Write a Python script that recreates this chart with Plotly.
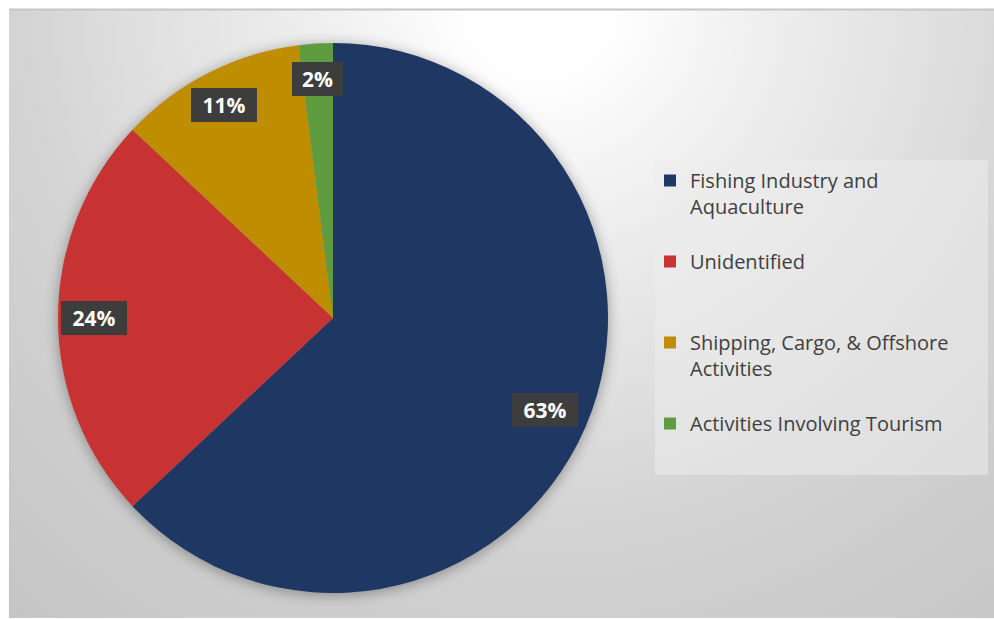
import base64
import math

import plotly.graph_objects as go

# Sources of marine debris, share of items by origin
categories = [
    "Fishing Industry and<br>Aquaculture",
    "Unidentified",
    "Shipping, Cargo, & Offshore<br>Activities",
    "Activities Involving Tourism",
]
values = [63, 24, 11, 2]
colors = ["#1f3763", "#c73333", "#bf8e00", "#5f9b3f"]

W, H = 994, 619
CX, CY, R = 333, 318, 275  # pie centre and radius in px

# Pad every legend entry to three lines so the entries are evenly spaced
legend_labels = []
for c in categories:
    n = c.count("<br>") + 1
    legend_labels.append(c + "<br>\u00a0" * (3 - n))

# Background: framed panel with a soft radial gradient and a shadow under the pie
svg = f"""<svg xmlns="http://www.w3.org/2000/svg" width="{W}" height="{H}" viewBox="0 0 {W} {H}">
<defs>
<radialGradient id="g" gradientUnits="userSpaceOnUse" cx="540" cy="0" r="850">
<stop offset="0" stop-color="#ffffff"/>
<stop offset="0.08" stop-color="#ffffff"/>
<stop offset="0.27" stop-color="#eeeeee"/>
<stop offset="0.45" stop-color="#e1e1e1"/>
<stop offset="0.61" stop-color="#d4d4d4"/>
<stop offset="0.8" stop-color="#cbcbcb"/>
<stop offset="1" stop-color="#c3c3c3"/>
</radialGradient>
<filter id="s" x="-20%" y="-20%" width="140%" height="140%"><feGaussianBlur stdDeviation="7"/></filter>
</defs>
<rect width="{W}" height="{H}" fill="#ffffff"/>
<rect x="9" y="9" width="{W - 9}" height="{H - 10}" fill="url(#g)"/>
<line x1="9" y1="9.5" x2="{W}" y2="9.5" stroke="#c6c6c6" stroke-width="2"/>
<circle cx="{CX}" cy="{CY + 2}" r="{R}" fill="#000000" fill-opacity="0.35" filter="url(#s)"/>
</svg>"""
bg_uri = "data:image/svg+xml;base64," + base64.b64encode(svg.encode()).decode()

fig = go.Figure(
    go.Pie(
        labels=legend_labels,
        values=values,
        sort=False,
        direction="clockwise",
        rotation=0,
        marker=dict(colors=colors, line=dict(width=0)),
        textinfo="none",
        hoverinfo="label+percent",
        domain=dict(x=[(CX - R) / W, (CX + R) / W], y=[1 - (CY + R) / H, 1 - (CY - R) / H]),
    )
)

# Percentage labels in dark boxes, placed along each slice's mid angle
total = sum(values)
cum = 0.0
for v in values:
    mid = (cum + v / 2) / total * 2 * math.pi
    cum += v
    rr = (0.84 if v > 50 else 0.87) * R
    px = CX + rr * math.sin(mid)
    py = CY - rr * math.cos(mid)
    fig.add_annotation(
        x=px / W,
        y=1 - py / H,
        xref="paper",
        yref="paper",
        xanchor="center",
        yanchor="middle",
        text=f"{v / total * 100:.0f}%",
        showarrow=False,
        font=dict(family="Open Sans", size=21, color="#ffffff", weight="bold"),
        bgcolor="#3d3d3d",
        bordercolor="#3d3d3d",
        borderwidth=1,
        borderpad=2,
        width=60 if v >= 10 else 45,
        height=28,
    )

fig.add_shape(
    type="rect",
    xref="paper",
    yref="paper",
    x0=655 / W,
    x1=988 / W,
    y0=1 - 475 / H,
    y1=1 - 160 / H,
    fillcolor="rgba(236,236,236,0.55)",
    line=dict(width=0),
    layer="below",
)

fig.update_layout(
    width=W,
    height=H,
    margin=dict(l=0, r=0, t=0, b=0),
    paper_bgcolor="#ffffff",
    images=[
        dict(
            source=bg_uri,
            xref="paper",
            yref="paper",
            x=0,
            y=1,
            sizex=1,
            sizey=1,
            xanchor="left",
            yanchor="top",
            sizing="stretch",
            layer="below",
        )
    ],
    showlegend=True,
    legend=dict(
        x=650 / W,
        y=1 - 161 / H,
        xanchor="left",
        yanchor="top",
        bgcolor="rgba(0,0,0,0)",
        valign="top",
        font=dict(family="Open Sans", size=20, color="#404040"),
        traceorder="normal",
    ),
)

fig.write_html("out.html")
